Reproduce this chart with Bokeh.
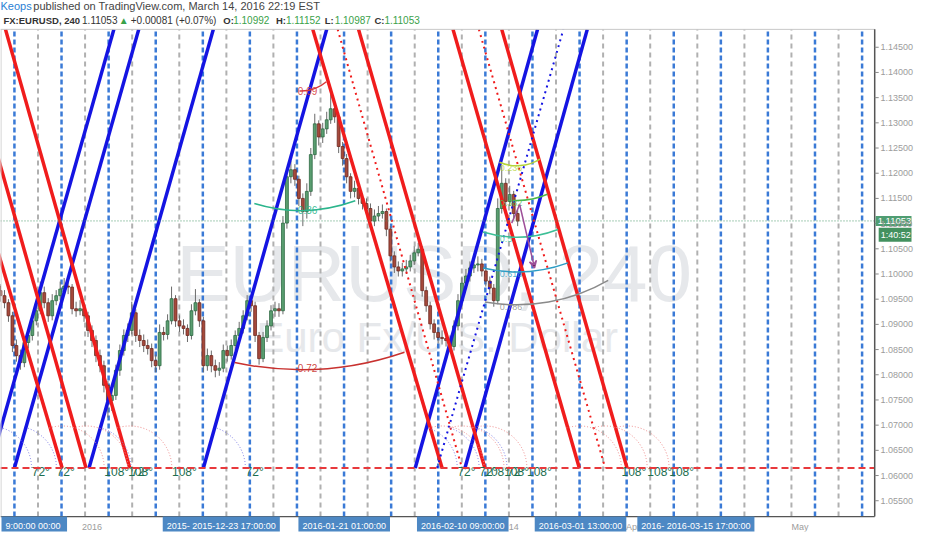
from bokeh.plotting import figure
from bokeh.models import Range1d, FixedTicker, ColumnDataSource, Arrow, VeeHead, PrintfTickFormatter
from bokeh.core.properties import value
from bokeh.embed import file_html
from bokeh.resources import INLINE

# ---------------- data ----------------
# x unit: trading days from 2016-01-01; candles every half day
CANDLE_START = -12.0
CANDLE_STEP = 0.5
first_open = 1.0976
closes = [1.0967,1.0957,1.0943,1.0917,1.0858,1.0838,1.0824,1.0864,1.0878,1.0907,
1.0927,1.0963,1.0943,1.0917,1.0947,1.0957,1.0970,1.0976,1.0974,1.0931,
1.0927,1.0931,1.0917,1.0888,1.0868,1.0838,1.0818,1.0779,1.0749,1.0759,
1.0809,1.0848,1.0878,1.0888,1.0923,1.0878,1.0868,1.0858,1.0852,1.0828,
1.0818,1.0884,1.0880,1.0907,1.0951,1.0907,1.0897,1.0892,1.0878,1.0927,
1.0943,1.0907,1.0818,1.0838,1.0818,1.0809,1.0813,1.0848,1.0838,1.0858,
1.0878,1.0892,1.0917,1.0947,1.0937,1.0878,1.0832,1.0874,1.0897,1.0927,
1.0931,1.0927,1.1101,1.1193,1.1207,1.1188,1.1150,1.1124,1.1164,1.1237,
1.1298,1.1272,1.1288,1.1306,1.1328,1.1312,1.1253,1.1229,1.1193,1.1164,
1.1170,1.1150,1.1140,1.1130,1.1105,1.1115,1.1120,1.1124,1.1089,1.1036,
1.1014,1.1006,1.1010,1.1014,1.1026,1.1042,1.1049,1.0967,1.0937,1.0901,
1.0884,1.0874,1.0872,1.0868,1.0856,1.0897,1.0947,1.0982,1.0996,1.1012,
1.1018,1.1020,1.1006,1.0986,1.0972,1.0947,1.1130,1.1180,1.1144,1.1158,
1.1120,1.1105]
highs = [1.0990,1.0980,1.0968,1.0950,1.0925,1.0870,1.0850,1.0875,1.0890,1.0918,
1.0940,1.0985,1.0975,1.0952,1.0960,1.0968,1.0985,1.0992,1.0988,1.0980,
1.0945,1.0948,1.0940,1.0925,1.0898,1.0878,1.0850,1.0828,1.0788,1.0772,
1.0820,1.0860,1.0890,1.0902,1.0945,1.0930,1.0890,1.0880,1.0870,1.0862,
1.0840,1.0900,1.0895,1.0920,1.0975,1.0958,1.0918,1.0910,1.0900,1.0940,
1.0970,1.0950,1.0915,1.0852,1.0848,1.0830,1.0825,1.0860,1.0858,1.0870,
1.0888,1.0905,1.0928,1.0958,1.0955,1.0945,1.0885,1.0885,1.0908,1.0938,
1.0945,1.0942,1.1115,1.1210,1.1225,1.1218,1.1195,1.1160,1.1180,1.1250,
1.1318,1.1305,1.1300,1.1322,1.1368,1.1340,1.1320,1.1262,1.1238,1.1200,
1.1185,1.1180,1.1160,1.1150,1.1140,1.1128,1.1135,1.1138,1.1130,1.1095,
1.1045,1.1025,1.1022,1.1028,1.1038,1.1055,1.1062,1.1055,1.0975,1.0945,
1.0910,1.0895,1.0888,1.0882,1.0878,1.0908,1.0960,1.0995,1.1010,1.1025,
1.1040,1.1035,1.1030,1.1015,1.0995,1.0980,1.1150,1.1215,1.1190,1.1175,
1.1165,1.1128]
lows = [1.0955,1.0945,1.0932,1.0905,1.0845,1.0826,1.0810,1.0815,1.0852,1.0868,
1.0898,1.0920,1.0932,1.0905,1.0908,1.0938,1.0948,1.0962,1.0960,1.0920,
1.0915,1.0918,1.0905,1.0875,1.0855,1.0825,1.0805,1.0765,1.0715,1.0728,
1.0750,1.0798,1.0838,1.0865,1.0880,1.0865,1.0855,1.0845,1.0840,1.0815,
1.0805,1.0810,1.0868,1.0870,1.0900,1.0895,1.0885,1.0880,1.0865,1.0870,
1.0918,1.0895,1.0805,1.0808,1.0805,1.0795,1.0798,1.0805,1.0826,1.0830,
1.0848,1.0868,1.0882,1.0908,1.0925,1.0865,1.0820,1.0825,1.0865,1.0888,
1.0915,1.0915,1.0920,1.1090,1.1180,1.1175,1.1135,1.1095,1.1110,1.1155,
1.1228,1.1255,1.1260,1.1278,1.1298,1.1300,1.1240,1.1215,1.1180,1.1150,
1.1152,1.1138,1.1128,1.1118,1.1092,1.1095,1.1105,1.1110,1.1075,1.1025,
1.1002,1.0995,1.0995,1.1000,1.1005,1.1018,1.1035,1.0955,1.0925,1.0890,
1.0870,1.0862,1.0860,1.0856,1.0845,1.0848,1.0888,1.0938,1.0972,1.0985,
1.1002,1.1005,1.0995,1.0975,1.0960,1.0935,1.0940,1.1120,1.1132,1.1135,
1.1108,1.1095]

last_price = 1.11053
countdown = "1:40:52"
base_level = 1.0615          # red dashed horizontal level

# cyclic vertical lines (trading days)
vline_blue = [-9.75,-3.83,2.09,8.01,13.93,19.84,25.76,31.68,37.60,43.52,49.44,55.36,61.28,67.20,73.12,79.04,84.95,90.87,96.79]
vline_grey = [-6.79,-0.87,5.05,10.97,16.89,22.80,28.72,34.64,40.56,46.48,52.40,58.32,64.24,70.16,76.08,82.00,87.91,93.83]

# trend lines: base x on base_level, end x on the top of the price pane
blue_base_x = [-12.875, -9.75, -0.375, 14.0, 40.625, 46.875]
blue_top_x = [2.75, 5.875, 15.25, 29.5, 56.0, 62.25]
red_top_x = [-20.125, -16.375, -10.875, 27.75, 33.5, 45.375, 51.5]
red_base_x = [-3.75, -0.75, 4.75, 44.0, 49.375, 61.25, 67.25]
red_dot_top_x = [30.875, 48.625]
red_dot_base_x = [46.5, 64.5]
blue_dot_base_x = [43.375]
blue_dot_top_x = [59.25]
blue_angle = 72
red_angle = 108

# fib arcs
left_arc_center = (26.25, 1.1442)
left_arc_levels = [0.09, 0.36, 0.72]
left_arc_labels = ["0.09", "0.36", "0.72"]
right_arc_center = (53.375, 1.1302)
right_arc_levels = [0.24, 0.43, 0.63, 0.82, 1.0]
right_arc_labels = ["0.236", "0.382", "0.5", "0.618", "0.786"]

# purple zig-zag
zig_x = [52.75, 53.75, 55.625]
zig_y = [1.1101, 1.1138, 1.1012]

# axis ticks and labels
x_ticks = [0, 53, 68, 89]
x_tick_labels = ["2016", "14", "Apr", "May"]
y_ticks = [1.055 + 0.005 * i for i in range(19)]
date_tags = ["2015- 2015-12-23 17:00:00", "2016-01-21 01:00:00", "2016-02-10 09:00:00",
             "2016-03-01 13:00:00", "2016- 2016-03-15 17:00:00"]
date_tag_x = [16.25, 31.7, 46.6, 61.4, 75.9]
first_tag = "9:00:00  00:00"

# ---------------- layout constants ----------------
W, H = 916, 534
PX_PER_DAY = 8.0
PX_PER_UNIT = 5067.0
X0 = -11.5
X1 = X0 + W / PX_PER_DAY
Y1 = 1.15428
Y0 = Y1 - H / PX_PER_UNIT
PANE_RIGHT = 98.375
PANE_TOP = 1.14855
PANE_BOTTOM = 1.05185

def cx2x(cx):
    return X0 + cx / PX_PER_DAY

def cy2y(cy):
    return Y1 - cy / PX_PER_UNIT

FONT = "Liberation Sans"

p = figure(width=W, height=H, x_range=Range1d(X0, X1), y_range=Range1d(Y0, Y1),
           output_backend="svg", toolbar_location=None, y_axis_location="right",
           min_border_left=0, min_border_right=0, min_border_top=0, min_border_bottom=0)
p.grid.visible = False
p.outline_line_color = None
p.background_fill_color = "white"
p.border_fill_color = "white"

for ax in (p.yaxis[0], p.xaxis[0]):
    ax.axis_line_color = None
    ax.major_tick_line_color = None
    ax.minor_tick_line_color = None
    ax.major_label_text_color = "#9c9c9c"
    ax.major_label_text_font = FONT
    ax.major_label_text_font_size = "9px"
    ax.major_tick_out = 0
    ax.major_tick_in = 0
p.yaxis.ticker = FixedTicker(ticks=y_ticks)
p.yaxis.formatter = PrintfTickFormatter(format="%.5f")
p.yaxis.major_label_standoff = -31
p.xaxis.ticker = FixedTicker(ticks=x_ticks)
p.xaxis.major_label_overrides = {t: l for t, l in zip(x_ticks, x_tick_labels)}
p.xaxis.major_label_standoff = -10
p.xaxis.level = "underlay"

# watermark
WM = "#e6e8eb"
p.text(x=[cx2x(436)], y=[cy2y(275)], text=["EURUSD, 240"], text_font=value(FONT),
       text_font_size="80px", text_color=WM, text_align="center", text_baseline="alphabetic")
p.text(x=[cx2x(439)], y=[cy2y(339)], text=["Euro Fx/U.S. Dollar"], text_font=value(FONT),
       text_font_size="42px", text_color=WM, text_align="center", text_baseline="alphabetic")

# vertical cyclic lines
p.segment(x0=vline_grey, x1=vline_grey, y0=[PANE_BOTTOM]*len(vline_grey), y1=[PANE_TOP]*len(vline_grey),
          line_color="#b0b0b0", line_width=2, line_dash="5 4")
p.segment(x0=vline_blue, x1=vline_blue, y0=[PANE_BOTTOM]*len(vline_blue), y1=[PANE_TOP]*len(vline_blue),
          line_color="#3a7ad6", line_width=2.5, line_dash="5 3")

# candles
opens = [first_open] + closes[:-1]
bar_x = [CANDLE_START + CANDLE_STEP * i for i in range(len(closes))]
up = [c >= o for o, c in zip(opens, closes)]
src = ColumnDataSource(dict(
    x=bar_x, top=[max(o, c) for o, c in zip(opens, closes)],
    bottom=[min(o, c) for o, c in zip(opens, closes)], high=highs, low=lows,
    fill=["#5a9e70" if u else "#a6493b" for u in up],
    edge=["#2f6a44" if u else "#6d2a21" for u in up]))
p.segment(x0="x", x1="x", y0="low", y1="high", source=src, line_color="#6a6a6a", line_width=1)
p.vbar(x="x", width=0.36, top="top", bottom="bottom", source=src,
       fill_color="fill", line_color="edge", line_width=0.8)

# trend lines
RED = "#f01c1c"
BLUE = "#1414e2"
p.segment(x0=blue_base_x, y0=[base_level]*len(blue_base_x), x1=blue_top_x, y1=[PANE_TOP]*len(blue_top_x),
          line_color=BLUE, line_width=3.5)
p.segment(x0=red_top_x, y0=[PANE_TOP]*len(red_top_x), x1=red_base_x, y1=[base_level]*len(red_base_x),
          line_color=RED, line_width=3.5)
p.segment(x0=red_dot_top_x, y0=[PANE_TOP]*len(red_dot_top_x), x1=red_dot_base_x, y1=[base_level]*len(red_dot_base_x),
          line_color=RED, line_width=2, line_dash="2 4")
p.segment(x0=blue_dot_base_x, y0=[base_level]*len(blue_dot_base_x), x1=blue_dot_top_x, y1=[PANE_TOP]*len(blue_dot_top_x),
          line_color=BLUE, line_width=2, line_dash="2 4")

# angle arcs and labels at line bases
blue_bases = blue_base_x + blue_dot_base_x
red_bases = red_base_x + red_dot_base_x
p.arc(x=blue_bases, y=[base_level]*len(blue_bases), radius=42, radius_units="screen",
      start_angle=0, end_angle=blue_angle, start_angle_units="deg", end_angle_units="deg",
      line_color="#7a7ae6", line_width=1, line_dash="1 2")
p.arc(x=red_bases, y=[base_level]*len(red_bases), radius=42, radius_units="screen",
      start_angle=0, end_angle=red_angle, start_angle_units="deg", end_angle_units="deg",
      line_color="#f08a8a", line_width=1, line_dash="1 2")
LABEL_DX = 5.3
ANG_Y = cy2y(474)
p.text(x=[b + LABEL_DX for b in blue_bases], y=[ANG_Y]*len(blue_bases), text=[f"{blue_angle}°"]*len(blue_bases),
       text_font=value(FONT), text_font_size="12px", text_color="#1d6e4f", text_baseline="middle")
p.text(x=[b + LABEL_DX for b in red_bases], y=[ANG_Y]*len(red_bases), text=[f"{red_angle}°"]*len(red_bases),
       text_font=value(FONT), text_font_size="12px", text_color="#1d6e4f", text_baseline="middle")

# base level and last price lines
p.segment(x0=[X0], x1=[PANE_RIGHT], y0=[base_level], y1=[base_level], line_color="#e8393c", line_width=2, line_dash="7 4")
p.segment(x0=[X0], x1=[PANE_RIGHT], y0=[last_price], y1=[last_price], line_color="#4e9a6e", line_width=1, line_dash="1 2")

# fib arcs, left set
LEFT_R = 442
left_colors = ["#d83a3a", "#2bb58c", "#c8312f"]
left_start = [-92, -107, -102]
left_end = [-50, -70, -71]
for lvl, lab, col, a0, a1 in zip(left_arc_levels, left_arc_labels, left_colors, left_start, left_end):
    p.arc(x=[left_arc_center[0]], y=[left_arc_center[1]], radius=lvl * LEFT_R, radius_units="screen",
          start_angle=a0, end_angle=a1, start_angle_units="deg", end_angle_units="deg",
          line_color=col, line_width=1.5)
    p.text(x=[left_arc_center[0] - 3 / PX_PER_DAY], y=[left_arc_center[1] - lvl * LEFT_R / PX_PER_UNIT],
           text=[lab], text_color=col, text_font=value(FONT), text_font_size="10px",
           text_baseline="middle", text_alpha=0.9)

# fib arcs, right set
RIGHT_R = 183
right_colors = ["#b5d33a", "#4cb84c", "#3cbf96", "#2c9cc4", "#8a8a8a"]
right_start = [-113, -93, -107, -103, -100]
right_end = [-58, -67, -69, -70, -60]
for lvl, lab, col, a0, a1 in zip(right_arc_levels, right_arc_labels, right_colors, right_start, right_end):
    p.arc(x=[right_arc_center[0]], y=[right_arc_center[1]], radius=lvl * RIGHT_R, radius_units="screen",
          start_angle=a0, end_angle=a1, start_angle_units="deg", end_angle_units="deg",
          line_color=col, line_width=1.5)
    p.text(x=[right_arc_center[0] - 17 / PX_PER_DAY], y=[right_arc_center[1] - (lvl * RIGHT_R + 3) / PX_PER_UNIT],
           text=[lab], text_color=col, text_font=value(FONT), text_font_size="9px",
           text_baseline="middle", text_alpha=0.8)

# purple zig-zag arrow
PURPLE = "#9d4f98"
p.line(x=zig_x[:2], y=zig_y[:2], line_color=PURPLE, line_width=1.5)
p.add_layout(Arrow(x_start=zig_x[1], y_start=zig_y[1], x_end=zig_x[2], y_end=zig_y[2],
                   line_color=PURPLE, line_width=1.5,
                   end=VeeHead(size=7, line_color=PURPLE, line_width=1.5)))

# pane borders and price-scale ticks
p.segment(x0=[X0], x1=[PANE_RIGHT], y0=[PANE_TOP], y1=[PANE_TOP], line_color="#c8c8c8", line_width=1)
p.segment(x0=[X0], x1=[PANE_RIGHT], y0=[PANE_BOTTOM], y1=[PANE_BOTTOM], line_color="#555555", line_width=1.2)
p.segment(x0=[PANE_RIGHT], x1=[PANE_RIGHT], y0=[PANE_BOTTOM], y1=[PANE_TOP], line_color="#555555", line_width=1.5)
p.segment(x0=[X0 + 0.06], x1=[X0 + 0.06], y0=[PANE_BOTTOM], y1=[PANE_TOP], line_color="#c8c8c8", line_width=1)
p.segment(x0=[PANE_RIGHT]*len(y_ticks), x1=[PANE_RIGHT + 4 / PX_PER_DAY]*len(y_ticks),
          y0=y_ticks, y1=y_ticks, line_color="#888888", line_width=1)

# price tags on the price scale
p.text(x=[PANE_RIGHT + 1 / PX_PER_DAY], y=[last_price], text=[f"{last_price:.5f}"], text_color="white",
       text_font=value(FONT), text_font_size="9.5px", text_baseline="middle",
       background_fill_color="#4f9d72", padding=2)
p.text(x=[PANE_RIGHT + 4 / PX_PER_DAY], y=[last_price - 14 / PX_PER_UNIT], text=[countdown], text_color="white",
       text_font=value(FONT), text_font_size="9px", text_baseline="middle",
       background_fill_color="#43915f", padding=2)

# date tags in the time scale strip
TAG = "#4d88c4"
TAG_Y = cy2y(528)
p.text(x=[X0 + 1 / PX_PER_DAY], y=[TAG_Y], text=[first_tag], text_color="white",
       text_font=value(FONT), text_font_size="9px", text_baseline="middle",
       background_fill_color=TAG, padding=4)
p.text(x=date_tag_x, y=[TAG_Y]*len(date_tag_x), text=date_tags, text_color="white", text_align="center",
       text_font=value(FONT), text_font_size="9px", text_baseline="middle",
       background_fill_color=TAG, padding=4)

# header
def hdr(cx, cy, text, color="#333333", bold=False, size="10px"):
    p.text(x=[cx2x(cx)], y=[cy2y(cy)], text=[text], text_color=color, text_font=value(FONT),
           text_font_size=size, text_baseline="middle", text_font_style="bold" if bold else "normal")

hdr(0, 6, "Keops", color="#2a7fd4", size="11px")
hdr(33, 6, "published on TradingView.com, March 14, 2016 22:19 EST", color="#444444", size="11px")
GREEN = "#3aa14a"
hdr(3, 20, "FX:EURUSD, 240", bold=True, size="9.5px")
hdr(82, 20, "1.11053")
hdr(119, 20, "▲", color=GREEN)
hdr(131, 20, "+0.00081 (+0.07%)")
for lx, lab, val in [(224, "O:", "1.10992"), (277, "H:", "1.11152"), (326, "L:", "1.10987"), (376, "C:", "1.11053")]:
    hdr(lx, 20, lab, bold=True, size="9.5px")
    hdr(lx + 10, 20, val, color=GREEN)

open("out.html", "w").write(file_html(p, INLINE))
